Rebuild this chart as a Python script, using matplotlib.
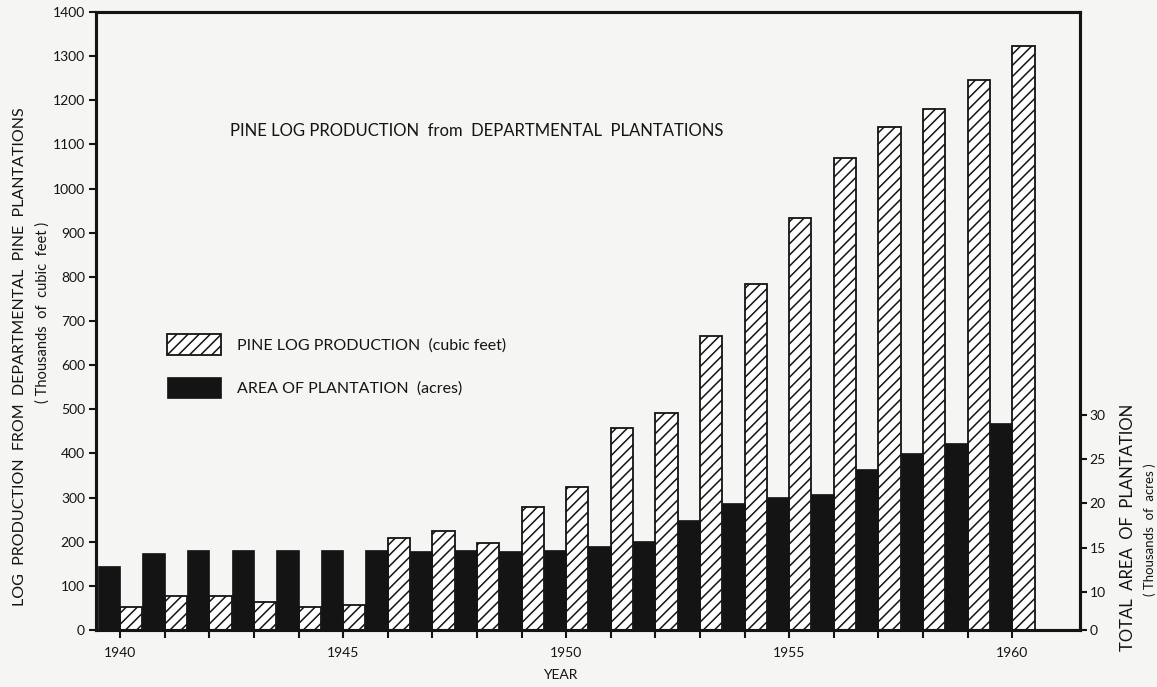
import numpy as np
import matplotlib
matplotlib.use("Agg")
import matplotlib.pyplot as plt
from matplotlib.ticker import FixedLocator

plt.rcParams['font.family'] = ['Lato', 'DejaVu Sans']

# data
years = np.arange(1940, 1961)
# pine log production, thousands of cubic feet
log_production = [53, 78, 76, 64, 52, 57, 209, 224, 197, 279, 325,
                  458, 492, 667, 784, 933, 1069, 1140, 1180, 1246, 1323]
# total plantation area, thousands of acres
plantation_area = [12.9, 14.4, 14.7, 14.7, 14.7, 14.7, 14.7, 14.6, 14.7, 14.6, 14.7,
                   15.2, 15.8, 18.1, 20.0, 20.7, 21.1, 23.9, 25.7, 26.8, 29.1]

left_ticks = list(range(0, 1401, 100))
right_ticks = [0, 10, 15, 20, 25, 30]
year_labels = [1940, 1945, 1950, 1955, 1960]

# right-hand scale on the original is compressed below 10 thousand acres
area_pts = [0, 10, 100]
left_equiv = [0, 86.1, 86.1 + 90 * 20.05]


def area_fwd(v):
    return np.interp(v, area_pts, left_equiv)


def area_inv(v):
    return np.interp(v, left_equiv, area_pts)


bg = '#f5f5f3'
ink = '#141414'

fig = plt.figure(figsize=(11.57, 6.87), dpi=100, facecolor=bg)
ax = fig.add_axes([96 / 1157, 1 - 630 / 687, (1080 - 96) / 1157, (630 - 12) / 687])
ax.set_facecolor(bg)
ax2 = ax.twinx()

plt.rcParams['hatch.linewidth'] = 1.1
hb = ax.bar(years + 0.25, log_production, width=0.5, color='white',
            edgecolor=ink, linewidth=1.3, hatch='///', label='PINE LOG PRODUCTION  (cubic feet)')
bb = ax2.bar(years - 0.25, plantation_area, width=0.5, color=ink,
             edgecolor=ink, linewidth=0.5, label='AREA OF PLANTATION  (acres)')

ax.set_xlim(1939.46, 1961.52)
ax.set_ylim(0, 1400)
ax2.set_yscale('function', functions=(area_fwd, area_inv))
ax2.set_ylim(0, area_inv(1400))

ax.set_yticks(left_ticks)
ax.set_yticklabels([str(t) for t in left_ticks])
ax2.yaxis.set_major_locator(FixedLocator(right_ticks))
ax2.yaxis.set_minor_locator(FixedLocator([]))
ax2.set_yticklabels([str(t) for t in right_ticks])

ax.set_xticks(year_labels)
ax.set_xticklabels([str(y) for y in year_labels])
ax.set_xticks(years, minor=True)

for a in (ax, ax2):
    for s in a.spines.values():
        s.set_linewidth(2.2)
        s.set_color(ink)
ax.tick_params(axis='both', which='both', direction='out', length=5, width=1.5,
               color=ink, labelsize=10, labelcolor=ink, pad=3)
ax.tick_params(axis='x', which='both', length=6, pad=6)
ax2.tick_params(axis='y', which='both', direction='out', length=5, width=1.5,
                color=ink, labelsize=10, labelcolor=ink, pad=2)

fig.text(560 / 1157, 1 - 675 / 687, 'YEAR', ha='center', va='center', fontsize=10, color=ink)

fig.text(20 / 1157, 1 - 357 / 687, 'LOG  PRODUCTION  FROM  DEPARTMENTAL  PINE  PLANTATIONS',
         rotation=90, ha='center', va='center', fontsize=11.5, color=ink)
fig.text(43 / 1157, 1 - 312 / 687, '( Thousands  of  cubic  feet )',
         rotation=90, ha='center', va='center', fontsize=10.5, color=ink)

fig.text(1128 / 1157, 1 - 527 / 687, 'TOTAL  AREA  OF  PLANTATION',
         rotation=90, ha='center', va='center', fontsize=12, color=ink)
fig.text(1150 / 1157, 1 - 530 / 687, '( Thousands  of  acres )',
         rotation=90, ha='center', va='center', fontsize=9.5, color=ink)

fig.text(230 / 1157, 1 - 131 / 687, 'PINE LOG PRODUCTION  from  DEPARTMENTAL  PLANTATIONS',
         ha='left', va='center', fontsize=12, color=ink)

leg = ax2.legend(handles=[hb, bb], loc='upper left',
                 bbox_to_anchor=(167 / 1157, 1 - 334 / 687), bbox_transform=fig.transFigure,
                 frameon=False, fontsize=11.5, handlelength=3.4, handleheight=1.65,
                 handletextpad=1.0, labelspacing=1.35, borderpad=0, borderaxespad=0)
for t in leg.get_texts():
    t.set_color(ink)

fig.savefig('out.png', dpi=100, facecolor=bg)
